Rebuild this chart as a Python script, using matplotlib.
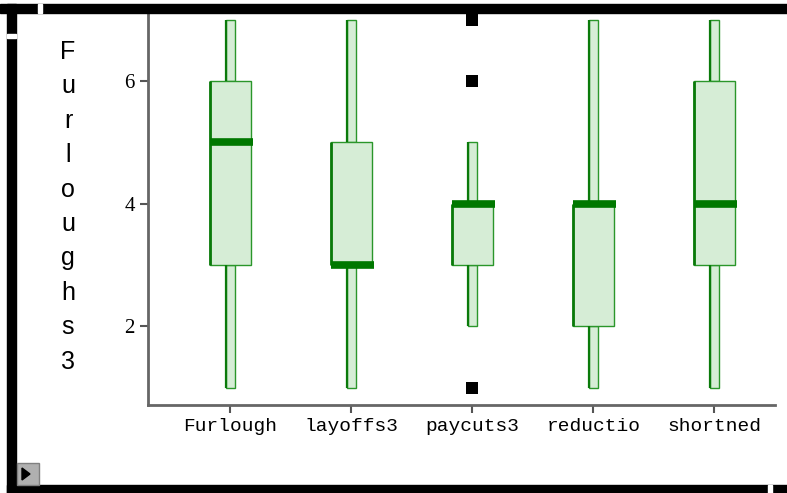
import matplotlib.pyplot as plt
from matplotlib.patches import Rectangle, Polygon

# box plot summary
categories = ["Furlough", "layoffs3", "paycuts3", "reductio", "shortned"]
lows = [1, 1, 2, 1, 1]
q1s = [3, 3, 3, 2, 3]
medians = [5, 3, 4, 4, 4]
q3s = [6, 5, 4, 4, 6]
highs = [7, 7, 5, 7, 7]
outlier_x = [2, 2, 2]
outlier_y = [1, 6, 7]
ylabel = "Furloughs3"

W, H = 787, 493
fig = plt.figure(figsize=(W / 100, H / 100), dpi=100)
ax = fig.add_axes([148 / W, 88 / H, (775 - 148) / W, (405 - 14) / H])

pos = list(range(len(categories)))
box_w = 0.34
wh_w = 0.075
fill = "#d6edd6"
edge = "#2a962a"

# whiskers drawn as narrow bars
ax.bar(pos, [q - l for q, l in zip(q1s, lows)], bottom=lows, width=wh_w,
       color=fill, edgecolor=edge, linewidth=1, zorder=2)
ax.bar(pos, [h - q for h, q in zip(highs, q3s)], bottom=q3s, width=wh_w,
       color=fill, edgecolor=edge, linewidth=1, zorder=2)
# boxes
ax.bar(pos, [b - a for a, b in zip(q1s, q3s)], bottom=q1s, width=box_w,
       color=fill, edgecolor=edge, linewidth=1, zorder=3)
# darker left edges
for p, lo, a, b, hi in zip(pos, lows, q1s, q3s, highs):
    ax.vlines(p - box_w / 2, a, b, color="#0a7a0a", lw=2, zorder=4)
    ax.vlines(p - wh_w / 2, lo, a, color="#0a7a0a", lw=1.6, zorder=4)
    ax.vlines(p - wh_w / 2, b, hi, color="#0a7a0a", lw=1.6, zorder=4)
# medians
ax.hlines(medians, [p - box_w / 2 for p in pos], [p + box_w / 2 + 0.02 for p in pos],
          color="#007800", lw=5.5, zorder=5)
# outliers
ax.scatter(outlier_x, outlier_y, marker="s", s=80, color="black", zorder=5, linewidths=0)

ax.set_xlim(-0.68, 4.5)
ax.set_ylim(0.715, 7.09)
ax.set_yticks([2, 4, 6])
ax.set_xticks(pos)
ax.set_xticklabels(categories, family="Liberation Mono", fontsize=14)
for t in ax.get_yticklabels():
    t.set_family("Liberation Serif")
    t.set_fontsize(15)
ax.tick_params(colors="#555555", labelcolor="black", length=6, width=1.5)
for s in ["top", "right"]:
    ax.spines[s].set_visible(False)
for s in ["left", "bottom"]:
    ax.spines[s].set_color("#666666")
    ax.spines[s].set_linewidth(2)

# vertical stacked y label
for i, ch in enumerate(ylabel):
    fig.text(68 / W, 1 - (52 + i * 34.4) / H, ch, ha="center", va="center",
             family="Liberation Sans", fontsize=18)

# window frame
fig.patches.append(Rectangle((0, 1 - 13 / H), 1, 9 / H, transform=fig.transFigure, color="black"))
fig.patches.append(Rectangle((7 / W, 0), 9 / W, 1 - 4 / H, transform=fig.transFigure, color="black"))
fig.patches.append(Rectangle((7 / W, 0), 1, 8 / H, transform=fig.transFigure, color="black"))
fig.patches.append(Rectangle((38 / W, 1 - 13 / H), 4 / W, 9 / H, transform=fig.transFigure, color="white"))
fig.patches.append(Rectangle((7 / W, 1 - 38 / H), 9 / W, 4 / H, transform=fig.transFigure, color="white"))
fig.patches.append(Rectangle((768 / W, 0), 4 / W, 8 / H, transform=fig.transFigure, color="white"))
fig.patches.append(Rectangle((17 / W, 8 / H), 22 / W, 22 / H, transform=fig.transFigure,
                             facecolor="#b0b0b0", edgecolor="#808080"))
fig.patches.append(Polygon([(22 / W, 13 / H), (22 / W, 25 / H), (30 / W, 19 / H)],
                           transform=fig.transFigure, color="black"))

plt.savefig("out.png", dpi=100)
